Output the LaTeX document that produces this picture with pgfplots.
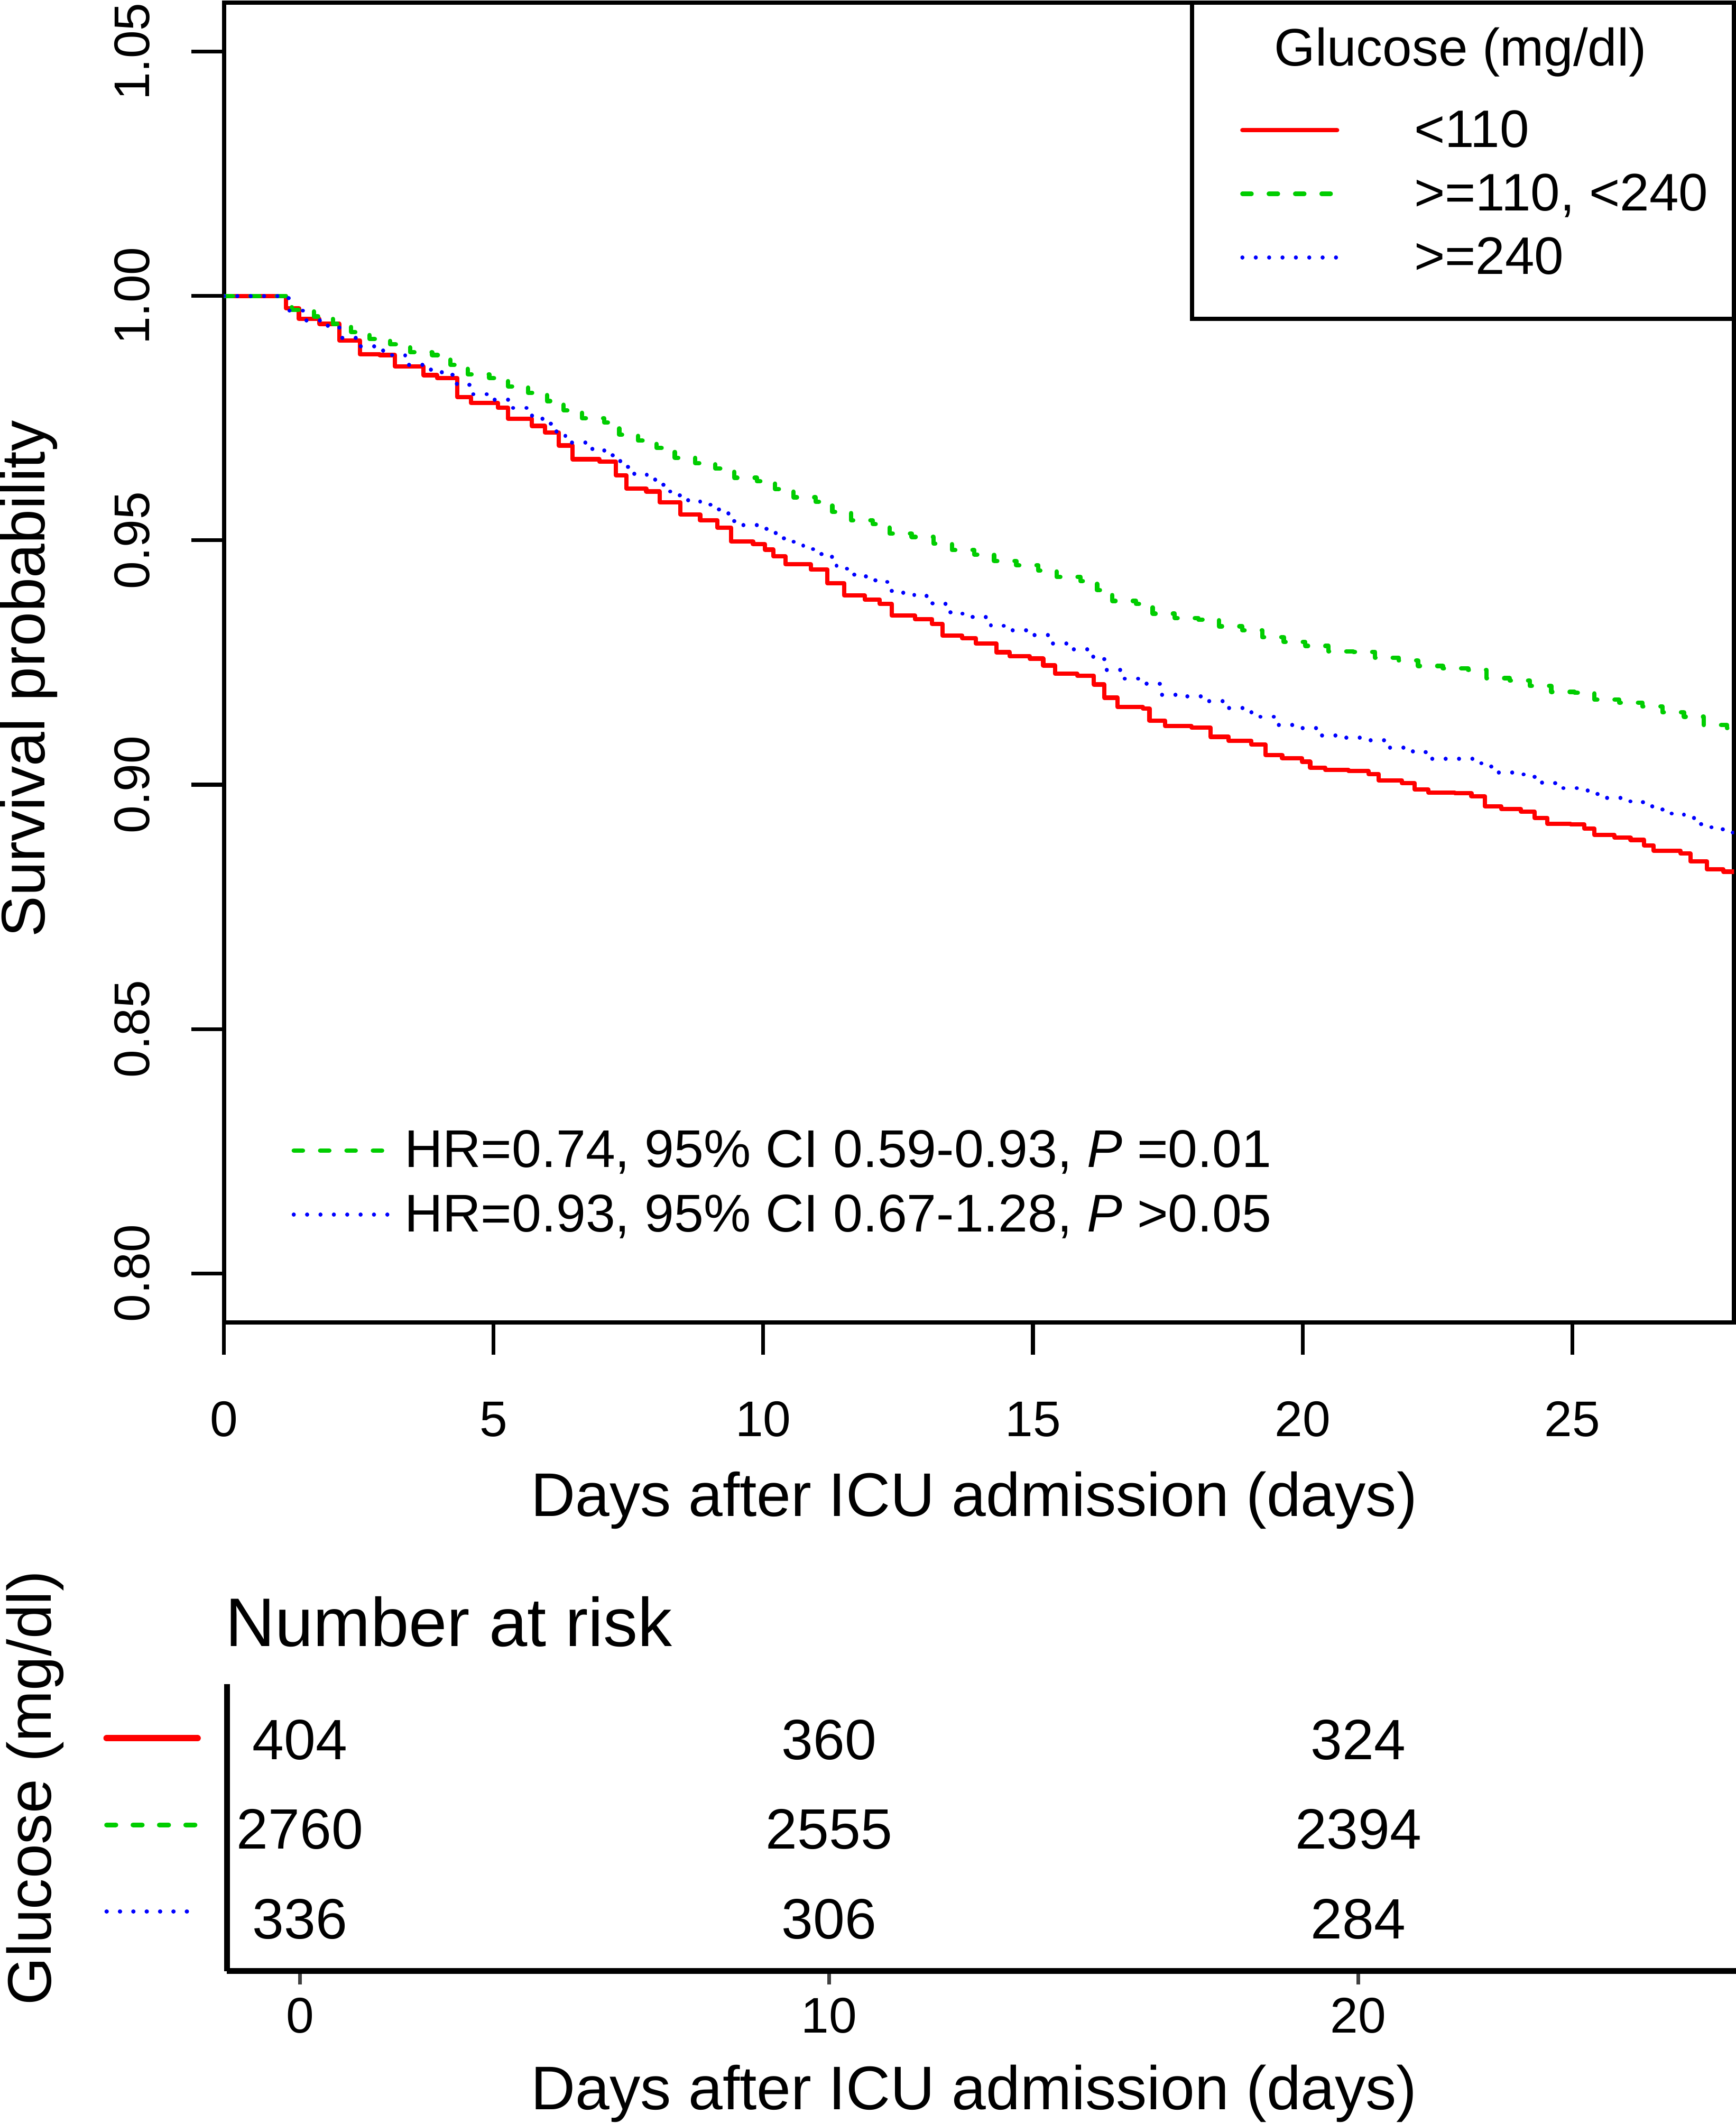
\documentclass[border=0pt]{standalone}
\usepackage{fontspec}
\setmainfont{Liberation Sans}
\usepackage{pgfplots}
\pgfplotsset{compat=1.18}
\definecolor{kmred}{HTML}{FF0000}
\definecolor{kmgreen}{HTML}{00CD00}
\definecolor{kmblue}{HTML}{0000FF}
\tikzset{
  redline/.style={color=kmred, line width=1.6pt, line cap=round, line join=round, solid},
  greenline/.style={color=kmgreen, line width=1.6pt, line cap=round, line join=round, dash pattern=on 3.4pt off 6.35pt},
  blueline/.style={color=kmblue, line width=1.5pt, line cap=round, line join=round, dash pattern=on 0.01pt off 4.93pt},
}
\newcommand{\tickfont}{\fontsize{18.5pt}{22pt}\selectfont}
\newcommand{\labfont}{\fontsize{22.75pt}{27pt}\selectfont}
\newcommand{\legfont}{\fontsize{19.5pt}{23pt}\selectfont}
\newcommand{\hrfont}{\fontsize{19.6pt}{23pt}\selectfont}
\newcommand{\strt}{\rule[-4pt]{0pt}{18pt}}

\pgfplotstableread{
x y
0 1.0000
0.98 1.0000
1.15 0.9975
1.39 0.9953
1.77 0.9943
2.14 0.9909
2.52 0.9881
2.89 0.9879
3.17 0.9856
3.70 0.9838
3.95 0.9832
4.33 0.9793
4.58 0.9781
5.08 0.9771
5.27 0.9749
5.71 0.9734
5.95 0.9721
6.21 0.9694
6.46 0.9666
6.96 0.9661
7.27 0.9633
7.46 0.9606
7.83 0.9600
8.08 0.9578
8.46 0.9553
8.83 0.9541
9.15 0.9526
9.40 0.9498
9.81 0.9492
10.03 0.9481
10.19 0.9467
10.41 0.9451
10.88 0.9440
11.19 0.9412
11.50 0.9387
11.88 0.9379
12.16 0.9370
12.38 0.9346
12.81 0.9339
13.13 0.9329
13.32 0.9305
13.69 0.9300
13.94 0.9289
14.32 0.9271
14.57 0.9263
14.94 0.9258
15.19 0.9244
15.41 0.9227
15.82 0.9223
16.13 0.9205
16.32 0.9178
16.57 0.9159
17.04 0.9156
17.16 0.9131
17.45 0.9120
17.94 0.9117
18.29 0.9098
18.63 0.9090
19.05 0.9082
19.31 0.9061
19.62 0.9054
19.99 0.9047
20.14 0.9035
20.42 0.9030
20.85 0.9028
21.22 0.9022
21.41 0.9009
21.84 0.9003
22.08 0.8990
22.33 0.8984
22.82 0.8983
23.13 0.8976
23.38 0.8956
23.68 0.8950
24.05 0.8945
24.30 0.8932
24.54 0.8920
24.97 0.8919
25.22 0.8910
25.41 0.8897
25.78 0.8892
26.08 0.8887
26.33 0.8876
26.51 0.8865
27.01 0.8859
27.19 0.8843
27.50 0.8827
27.80 0.8822
28.00 0.8822
}\redtab

\pgfplotstableread{
x y
0 1.0000
0.98 1.0000
1.26 0.9972
1.67 0.9958
2.02 0.9943
2.36 0.9926
2.70 0.9912
3.08 0.9901
3.45 0.9885
3.86 0.9879
4.20 0.9859
4.52 0.9840
4.92 0.9832
5.27 0.9815
5.64 0.9802
5.99 0.9785
6.30 0.9766
6.64 0.9750
7.05 0.9741
7.33 0.9716
7.68 0.9704
8.02 0.9689
8.36 0.9669
8.74 0.9658
9.11 0.9647
9.46 0.9628
9.88 0.9621
10.22 0.9605
10.56 0.9588
10.97 0.9579
11.28 0.9558
11.63 0.9541
12.03 0.9533
12.34 0.9514
12.75 0.9507
13.16 0.9493
13.50 0.9480
13.91 0.9471
14.28 0.9458
14.69 0.9449
15.10 0.9438
15.44 0.9425
15.88 0.9417
16.19 0.9398
16.47 0.9376
16.91 0.9370
17.22 0.9350
17.63 0.9341
18.07 0.9338
18.45 0.9324
18.88 0.9316
19.25 0.9302
19.65 0.9292
20.05 0.9284
20.48 0.9273
20.94 0.9272
21.34 0.9260
21.78 0.9254
22.14 0.9243
22.60 0.9238
23.07 0.9235
23.41 0.9218
23.84 0.9213
24.21 0.9202
24.61 0.9190
25.04 0.9188
25.41 0.9174
25.87 0.9168
26.30 0.9160
26.67 0.9148
27.07 0.9139
27.44 0.9122
27.87 0.9116
28.00 0.9116
}\greentab

\pgfplotstableread{
x y
0 1.0000
0.98 1.0000
1.20 0.9970
1.48 0.9950
1.89 0.9939
2.14 0.9914
2.48 0.9897
2.89 0.9888
3.08 0.9879
3.36 0.9859
3.77 0.9849
3.95 0.9844
4.24 0.9820
4.55 0.9799
4.92 0.9788
5.27 0.9771
5.61 0.9755
5.80 0.9749
6.06 0.9723
6.33 0.9700
6.71 0.9687
6.94 0.9684
7.21 0.9662
7.49 0.9636
7.84 0.9624
8.15 0.9600
8.45 0.9582
8.83 0.9573
9.18 0.9555
9.46 0.9531
9.72 0.9531
10.06 0.9515
10.38 0.9497
10.74 0.9482
11.08 0.9466
11.36 0.9442
11.69 0.9426
12.08 0.9415
12.38 0.9393
12.80 0.9386
13.14 0.9370
13.47 0.9350
13.88 0.9343
14.22 0.9325
14.62 0.9316
15.02 0.9306
15.35 0.9289
15.74 0.9277
16.09 0.9262
16.32 0.9235
16.67 0.9217
17.07 0.9207
17.35 0.9184
17.80 0.9181
18.19 0.9171
18.57 0.9157
18.96 0.9148
19.15 0.9139
19.48 0.9122
19.90 0.9116
20.27 0.9101
20.72 0.9096
21.17 0.9091
21.53 0.9076
21.93 0.9068
22.28 0.9053
22.77 0.9053
23.19 0.9044
23.50 0.9025
23.96 0.9021
24.30 0.9004
24.68 0.8993
25.13 0.8988
25.47 0.8973
25.91 0.8966
26.31 0.8956
26.67 0.8941
27.07 0.8932
27.39 0.8913
27.79 0.8902
28.00 0.8898
}\bluetab

\begin{document}
\begin{tikzpicture}
\useasboundingbox (0pt,0pt) rectangle (641.5pt,-784.3pt);

% ---------------- main survival plot ----------------
\begin{axis}[
  at={(82.75pt,-488.5pt)}, anchor=south west,
  scale only axis, width=558.05pt, height=487.5pt,
  xmin=0, xmax=28, ymin=0.79, ymax=1.06,
  xtick={0,5,10,15,20,25},
  ytick={0.80,0.85,0.90,0.95,1.00,1.05},
  /pgf/number format/assume math mode=true,
  yticklabel style={/pgf/number format/fixed, /pgf/number format/fixed zerofill, /pgf/number format/precision=2, rotate=90, anchor=base, inner sep=0pt, font=\tickfont},
  xticklabel style={anchor=base, inner sep=0pt, font=\tickfont},
  xticklabel shift=30.2pt,
  yticklabel shift=15.5pt,
  tick pos=left, tick align=outside, major tick length=12pt,
  tick style={black, line width=1.4pt},
  axis line style={line width=1.6pt},
  xlabel={Days after ICU admission (days)},
  xlabel style={at={(axis description cs:0.49682,-0.14708)}, anchor=base, inner sep=0pt, font=\labfont},
  ylabel={Survival probability},
  ylabel style={at={(axis description cs:-0.11872,0.48759)}, anchor=base, inner sep=0pt, font=\labfont},
  legend style={at={(axis description cs:0.67261,0.91969)}, anchor=north west, draw=none, fill=none,
    inner sep=0pt, row sep={23.5pt,between origins}, nodes={inner sep=0pt}, cells={anchor=west}, font=\legfont,
    /tikz/every odd column/.append style={column sep=27.7pt}},
  legend image code/.code={\path[draw=none,fill=none] (0pt,-3pt) rectangle (35pt,3pt); \draw[#1] (0pt,0pt) -- (35pt,0pt);},
]
\addplot[redline, const plot] table[x=x,y=y] {\redtab};
\addlegendentry{\strt<110}
\addplot[greenline, const plot] table[x=x,y=y] {\greentab};
\addlegendentry{\strt>=110, <240}
\addplot[blueline, const plot] table[x=x,y=y] {\bluetab};
\addlegendentry{\strt>=240}
\node[anchor=base west, inner sep=0pt, font=\legfont] at (axis description cs:0.69510,0.95210) {Glucose (mg/dl)};
\draw[line width=1.6pt] (axis description cs:0.64107,0.76041) rectangle (axis description cs:1,1);
\end{axis}

% ---------------- HR annotation legend ----------------
\begin{axis}[
  at={(82.75pt,-488.5pt)}, anchor=south west,
  scale only axis, width=558.05pt, height=487.5pt,
  xmin=0, xmax=28, ymin=0.79, ymax=1.06, hide axis,
  legend style={at={(axis description cs:0.04444,0.14646)}, anchor=north west, draw=none, fill=none,
    inner sep=0pt, row sep={23.65pt,between origins}, nodes={inner sep=0pt}, cells={anchor=west}, font=\hrfont,
    /tikz/every odd column/.append style={column sep=5.1pt}},
  legend image code/.code={\path[draw=none,fill=none] (0pt,-3pt) rectangle (35pt,3pt); \draw[#1] (0pt,0pt) -- (35pt,0pt);},
]
\addlegendimage{greenline}
\addlegendentry{\strt HR=0.74, 95\% CI 0.59-0.93, \textit{P} =0.01}
\addlegendimage{blueline}
\addlegendentry{\strt HR=0.93, 95\% CI 0.67-1.28, \textit{P} >0.05}
\end{axis}

% ---------------- number at risk ----------------
\begin{axis}[
  at={(83.85pt,-728.15pt)}, anchor=south west,
  scale only axis, width=557.65pt, height=105.9pt,
  xmin=-1.3807, xmax=27.136, ymin=0.6395, ymax=3.834,
  axis x line=bottom, axis y line=left,
  axis line style={-, line width=2.2pt},
  xtick={0,10,20}, ytick=\empty,
  /pgf/number format/assume math mode=true,
  tick align=outside, major tick length=5pt,
  tick style={black!75, line width=1.4pt},
  xticklabel style={anchor=base, inner sep=0pt, font=\tickfont},
  xticklabel shift=17.85pt,
  every axis title shift=0pt,
  title={Number at risk},
  title style={at={(axis description cs:-0.00126,1.13267)}, anchor=base west, inner sep=0pt, font=\fontsize{25.4pt}{30pt}\selectfont},
  xlabel={Days after ICU admission (days)},
  xlabel style={at={(axis description cs:0.4952,-0.48300)}, anchor=base, inner sep=0pt, font=\labfont},
  ylabel={Glucose (mg/dl)},
  ylabel style={at={(axis description cs:-0.11647,0.6388)}, anchor=base, inner sep=0pt, font=\labfont},
  legend style={at={(axis description cs:-0.08222,0.88716)}, anchor=north west, draw=none, fill=none,
    inner sep=0pt, row sep={32pt,between origins}, nodes={inner sep=0pt}, cells={anchor=west}},
  legend image code/.code={\path[draw=none,fill=none] (0pt,-3pt) rectangle (33.6pt,3pt); \draw[#1] (0pt,0pt) -- (33.6pt,0pt);},
]
\addplot[draw=none, mark=none, forget plot, nodes near coords, point meta=explicit symbolic,
  every node near coord/.append style={anchor=base, inner sep=0pt, text=black, font=\fontsize{21pt}{25pt}\selectfont}]
coordinates {
 (0,3) [404] (10,3) [360] (20,3) [324]
 (0,2) [2760] (10,2) [2555] (20,2) [2394]
 (0,1) [336] (10,1) [306] (20,1) [284]
};
\addlegendimage{redline, line width=2.4pt}
\addlegendentry{\strt}
\addlegendimage{greenline, line width=1.8pt}
\addlegendentry{\strt}
\addlegendimage{blueline, line width=1.6pt}
\addlegendentry{\strt}
\end{axis}
\end{tikzpicture}
\end{document}
